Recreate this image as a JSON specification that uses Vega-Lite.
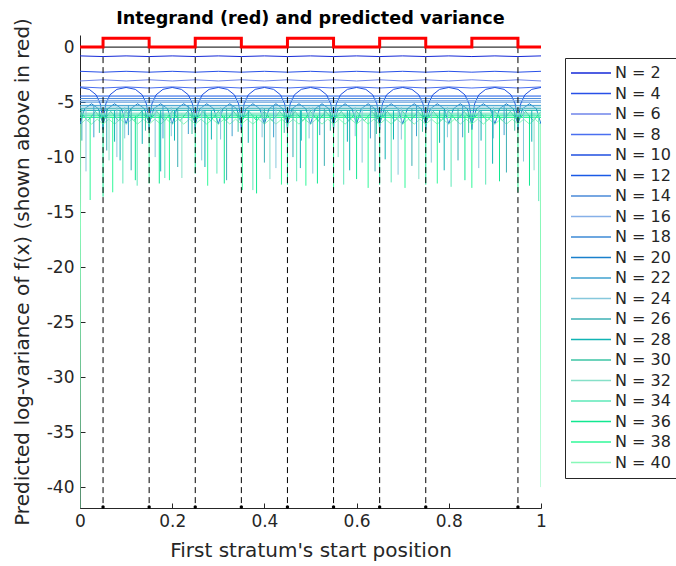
{
"$schema":"https://vega.github.io/schema/vega-lite/v6.json",
"width":461,"height":473,"autosize":"none",
"padding":{"left":80,"top":35,"right":135,"bottom":58},
"title":{"text":"Integrand (red) and predicted variance","fontSize":17.6,"fontWeight":"bold","font":"DejaVu Sans","color":"#000000","anchor":"middle","frame":"group","offset":6,"dy":16},
"datasets":{
"red":[{"x":0,"y":0},{"x":0.05,"y":0.8},{"x":0.15,"y":0},{"x":0.25,"y":0.8},{"x":0.35,"y":0},{"x":0.45,"y":0.8},{"x":0.55,"y":0},{"x":0.65,"y":0.8},{"x":0.75,"y":0},{"x":0.85,"y":0.8},{"x":0.95,"y":0},{"x":1,"y":0}],
"stems":[{"x":0.05,"t":0,"v":-41.8},{"x":0.15,"t":0,"v":-41.8},{"x":0.25,"t":0,"v":-41.8},{"x":0.35,"t":0,"v":-41.8},{"x":0.45,"t":0,"v":-41.8},{"x":0.55,"t":0,"v":-41.8},{"x":0.65,"t":0,"v":-41.8},{"x":0.75,"t":0,"v":-41.8},{"x":0.95,"t":0,"v":-41.8}],
"base":[{"x":0,"y":0},{"x":1,"y":0}],
"var":[
{"n":2,"x":0,"y":-0.8},{"n":2,"x":0.05,"y":-0.86},{"n":2,"x":0.1,"y":-0.8},{"n":2,"x":0.15,"y":-0.86},{"n":2,"x":0.2,"y":-0.8},{"n":2,"x":0.25,"y":-0.86},{"n":2,"x":0.3,"y":-0.8},{"n":2,"x":0.35,"y":-0.86},{"n":2,"x":0.4,"y":-0.8},{"n":2,"x":0.45,"y":-0.86},{"n":2,"x":0.5,"y":-0.8},{"n":2,"x":0.55,"y":-0.86},{"n":2,"x":0.6,"y":-0.8},{"n":2,"x":0.65,"y":-0.86},{"n":2,"x":0.7,"y":-0.8},{"n":2,"x":0.75,"y":-0.86},{"n":2,"x":0.8,"y":-0.8},{"n":2,"x":0.85,"y":-0.86},{"n":2,"x":0.9,"y":-0.8},{"n":2,"x":0.95,"y":-0.86},{"n":2,"x":1,"y":-0.8},
{"n":4,"x":0,"y":-2.2},{"n":4,"x":0.05,"y":-2.28},{"n":4,"x":0.1,"y":-2.2},{"n":4,"x":0.15,"y":-2.28},{"n":4,"x":0.2,"y":-2.2},{"n":4,"x":0.25,"y":-2.28},{"n":4,"x":0.3,"y":-2.2},{"n":4,"x":0.35,"y":-2.28},{"n":4,"x":0.4,"y":-2.2},{"n":4,"x":0.45,"y":-2.28},{"n":4,"x":0.5,"y":-2.2},{"n":4,"x":0.55,"y":-2.28},{"n":4,"x":0.6,"y":-2.2},{"n":4,"x":0.65,"y":-2.28},{"n":4,"x":0.7,"y":-2.2},{"n":4,"x":0.75,"y":-2.28},{"n":4,"x":0.8,"y":-2.2},{"n":4,"x":0.85,"y":-2.28},{"n":4,"x":0.9,"y":-2.2},{"n":4,"x":0.95,"y":-2.28},{"n":4,"x":1,"y":-2.2},
{"n":6,"x":0,"y":-3.08},{"n":6,"x":0.05,"y":-2.97},{"n":6,"x":0.1,"y":-3.08},{"n":6,"x":0.15,"y":-2.97},{"n":6,"x":0.2,"y":-3.08},{"n":6,"x":0.25,"y":-2.97},{"n":6,"x":0.3,"y":-3.08},{"n":6,"x":0.35,"y":-2.97},{"n":6,"x":0.4,"y":-3.08},{"n":6,"x":0.45,"y":-2.97},{"n":6,"x":0.5,"y":-3.08},{"n":6,"x":0.55,"y":-2.97},{"n":6,"x":0.6,"y":-3.08},{"n":6,"x":0.65,"y":-2.97},{"n":6,"x":0.7,"y":-3.08},{"n":6,"x":0.75,"y":-2.97},{"n":6,"x":0.8,"y":-3.08},{"n":6,"x":0.85,"y":-2.97},{"n":6,"x":0.9,"y":-3.08},{"n":6,"x":0.95,"y":-2.97},{"n":6,"x":1,"y":-3.08},
{"n":8,"x":0,"y":-3.62},{"n":8,"x":0.05,"y":-3.72},{"n":8,"x":0.1,"y":-3.62},{"n":8,"x":0.15,"y":-3.72},{"n":8,"x":0.2,"y":-3.62},{"n":8,"x":0.25,"y":-3.72},{"n":8,"x":0.3,"y":-3.62},{"n":8,"x":0.35,"y":-3.72},{"n":8,"x":0.4,"y":-3.62},{"n":8,"x":0.45,"y":-3.72},{"n":8,"x":0.5,"y":-3.62},{"n":8,"x":0.55,"y":-3.72},{"n":8,"x":0.6,"y":-3.62},{"n":8,"x":0.65,"y":-3.72},{"n":8,"x":0.7,"y":-3.62},{"n":8,"x":0.75,"y":-3.72},{"n":8,"x":0.8,"y":-3.62},{"n":8,"x":0.85,"y":-3.72},{"n":8,"x":0.9,"y":-3.62},{"n":8,"x":0.95,"y":-3.72},{"n":8,"x":1,"y":-3.62},
{"n":10,"x":0,"y":-3.67},
{"n":10,"x":0.02,"y":-3.84},{"n":10,"x":0.035,"y":-4.34},{"n":10,"x":0.044,"y":-5.16},{"n":10,"x":0.048,"y":-6.22},{"n":10,"x":0.05,"y":-7.5},{"n":10,"x":0.052,"y":-6.22},{"n":10,"x":0.056,"y":-5.16},{"n":10,"x":0.065,"y":-4.34},{"n":10,"x":0.08,"y":-3.84},{"n":10,"x":0.1,"y":-3.67},
{"n":10,"x":0.12,"y":-3.84},{"n":10,"x":0.135,"y":-4.34},{"n":10,"x":0.144,"y":-5.16},{"n":10,"x":0.148,"y":-6.22},{"n":10,"x":0.15,"y":-7.5},{"n":10,"x":0.152,"y":-6.22},{"n":10,"x":0.156,"y":-5.16},{"n":10,"x":0.165,"y":-4.34},{"n":10,"x":0.18,"y":-3.84},{"n":10,"x":0.2,"y":-3.67},
{"n":10,"x":0.22,"y":-3.84},{"n":10,"x":0.235,"y":-4.34},{"n":10,"x":0.244,"y":-5.16},{"n":10,"x":0.248,"y":-6.22},{"n":10,"x":0.25,"y":-7.5},{"n":10,"x":0.252,"y":-6.22},{"n":10,"x":0.256,"y":-5.16},{"n":10,"x":0.265,"y":-4.34},{"n":10,"x":0.28,"y":-3.84},{"n":10,"x":0.3,"y":-3.67},
{"n":10,"x":0.32,"y":-3.84},{"n":10,"x":0.335,"y":-4.34},{"n":10,"x":0.344,"y":-5.16},{"n":10,"x":0.348,"y":-6.22},{"n":10,"x":0.35,"y":-7.5},{"n":10,"x":0.352,"y":-6.22},{"n":10,"x":0.356,"y":-5.16},{"n":10,"x":0.365,"y":-4.34},{"n":10,"x":0.38,"y":-3.84},{"n":10,"x":0.4,"y":-3.67},
{"n":10,"x":0.42,"y":-3.84},{"n":10,"x":0.435,"y":-4.34},{"n":10,"x":0.444,"y":-5.16},{"n":10,"x":0.448,"y":-6.22},{"n":10,"x":0.45,"y":-7.5},{"n":10,"x":0.452,"y":-6.22},{"n":10,"x":0.456,"y":-5.16},{"n":10,"x":0.465,"y":-4.34},{"n":10,"x":0.48,"y":-3.84},{"n":10,"x":0.5,"y":-3.67},
{"n":10,"x":0.52,"y":-3.84},{"n":10,"x":0.535,"y":-4.34},{"n":10,"x":0.544,"y":-5.16},{"n":10,"x":0.548,"y":-6.22},{"n":10,"x":0.55,"y":-7.5},{"n":10,"x":0.552,"y":-6.22},{"n":10,"x":0.556,"y":-5.16},{"n":10,"x":0.565,"y":-4.34},{"n":10,"x":0.58,"y":-3.84},{"n":10,"x":0.6,"y":-3.67},
{"n":10,"x":0.62,"y":-3.84},{"n":10,"x":0.635,"y":-4.34},{"n":10,"x":0.644,"y":-5.16},{"n":10,"x":0.648,"y":-6.22},{"n":10,"x":0.65,"y":-7.5},{"n":10,"x":0.652,"y":-6.22},{"n":10,"x":0.656,"y":-5.16},{"n":10,"x":0.665,"y":-4.34},{"n":10,"x":0.68,"y":-3.84},{"n":10,"x":0.7,"y":-3.67},
{"n":10,"x":0.72,"y":-3.84},{"n":10,"x":0.735,"y":-4.34},{"n":10,"x":0.744,"y":-5.16},{"n":10,"x":0.748,"y":-6.22},{"n":10,"x":0.75,"y":-7.5},{"n":10,"x":0.752,"y":-6.22},{"n":10,"x":0.756,"y":-5.16},{"n":10,"x":0.765,"y":-4.34},{"n":10,"x":0.78,"y":-3.84},{"n":10,"x":0.8,"y":-3.67},
{"n":10,"x":0.82,"y":-3.84},{"n":10,"x":0.835,"y":-4.34},{"n":10,"x":0.844,"y":-5.16},{"n":10,"x":0.848,"y":-6.22},{"n":10,"x":0.85,"y":-7.5},{"n":10,"x":0.852,"y":-6.22},{"n":10,"x":0.856,"y":-5.16},{"n":10,"x":0.865,"y":-4.34},{"n":10,"x":0.88,"y":-3.84},{"n":10,"x":0.9,"y":-3.67},
{"n":10,"x":0.92,"y":-3.84},{"n":10,"x":0.935,"y":-4.34},{"n":10,"x":0.944,"y":-5.16},{"n":10,"x":0.948,"y":-6.22},{"n":10,"x":0.95,"y":-7.5},{"n":10,"x":0.952,"y":-6.22},{"n":10,"x":0.956,"y":-5.16},{"n":10,"x":0.965,"y":-4.34},{"n":10,"x":0.98,"y":-3.84},{"n":10,"x":1,"y":-3.67},
{"n":12,"x":0,"y":-4.45},{"n":12,"x":1,"y":-4.45},
{"n":14,"x":0,"y":-4.67},{"n":14,"x":1,"y":-4.67},
{"n":16,"x":0,"y":-4.85},{"n":16,"x":1,"y":-4.85},
{"n":18,"x":0,"y":-5.0},{"n":18,"x":1,"y":-5.0},
{"n":20,"x":0,"y":-7},{"n":20,"x":0.01,"y":-5.6},{"n":20,"x":0.025,"y":-5.15},{"n":20,"x":0.04,"y":-5.6},
{"n":20,"x":0.05,"y":-7},{"n":20,"x":0.06,"y":-5.6},{"n":20,"x":0.075,"y":-5.15},{"n":20,"x":0.09,"y":-5.6},
{"n":20,"x":0.1,"y":-7},{"n":20,"x":0.11,"y":-5.6},{"n":20,"x":0.125,"y":-5.15},{"n":20,"x":0.14,"y":-5.6},
{"n":20,"x":0.15,"y":-7},{"n":20,"x":0.16,"y":-5.6},{"n":20,"x":0.175,"y":-5.15},{"n":20,"x":0.19,"y":-5.6},
{"n":20,"x":0.2,"y":-7},{"n":20,"x":0.21,"y":-5.6},{"n":20,"x":0.225,"y":-5.15},{"n":20,"x":0.24,"y":-5.6},
{"n":20,"x":0.25,"y":-7},{"n":20,"x":0.26,"y":-5.6},{"n":20,"x":0.275,"y":-5.15},{"n":20,"x":0.29,"y":-5.6},
{"n":20,"x":0.3,"y":-7},{"n":20,"x":0.31,"y":-5.6},{"n":20,"x":0.325,"y":-5.15},{"n":20,"x":0.34,"y":-5.6},
{"n":20,"x":0.35,"y":-7},{"n":20,"x":0.36,"y":-5.6},{"n":20,"x":0.375,"y":-5.15},{"n":20,"x":0.39,"y":-5.6},
{"n":20,"x":0.4,"y":-7},{"n":20,"x":0.41,"y":-5.6},{"n":20,"x":0.425,"y":-5.15},{"n":20,"x":0.44,"y":-5.6},
{"n":20,"x":0.45,"y":-7},{"n":20,"x":0.46,"y":-5.6},{"n":20,"x":0.475,"y":-5.15},{"n":20,"x":0.49,"y":-5.6},
{"n":20,"x":0.5,"y":-7},{"n":20,"x":0.51,"y":-5.6},{"n":20,"x":0.525,"y":-5.15},{"n":20,"x":0.54,"y":-5.6},
{"n":20,"x":0.55,"y":-7},{"n":20,"x":0.56,"y":-5.6},{"n":20,"x":0.575,"y":-5.15},{"n":20,"x":0.59,"y":-5.6},
{"n":20,"x":0.6,"y":-7},{"n":20,"x":0.61,"y":-5.6},{"n":20,"x":0.625,"y":-5.15},{"n":20,"x":0.64,"y":-5.6},
{"n":20,"x":0.65,"y":-7},{"n":20,"x":0.66,"y":-5.6},{"n":20,"x":0.675,"y":-5.15},{"n":20,"x":0.69,"y":-5.6},
{"n":20,"x":0.7,"y":-7},{"n":20,"x":0.71,"y":-5.6},{"n":20,"x":0.725,"y":-5.15},{"n":20,"x":0.74,"y":-5.6},
{"n":20,"x":0.75,"y":-7},{"n":20,"x":0.76,"y":-5.6},{"n":20,"x":0.775,"y":-5.15},{"n":20,"x":0.79,"y":-5.6},
{"n":20,"x":0.8,"y":-7},{"n":20,"x":0.81,"y":-5.6},{"n":20,"x":0.825,"y":-5.15},{"n":20,"x":0.84,"y":-5.6},
{"n":20,"x":0.85,"y":-7},{"n":20,"x":0.86,"y":-5.6},{"n":20,"x":0.875,"y":-5.15},{"n":20,"x":0.89,"y":-5.6},
{"n":20,"x":0.9,"y":-7},{"n":20,"x":0.91,"y":-5.6},{"n":20,"x":0.925,"y":-5.15},{"n":20,"x":0.94,"y":-5.6},
{"n":20,"x":0.95,"y":-7},{"n":20,"x":0.96,"y":-5.6},{"n":20,"x":0.975,"y":-5.15},{"n":20,"x":0.99,"y":-5.6},
{"n":20,"x":1,"y":-7},
{"n":22,"x":0,"y":-5.3},{"n":22,"x":1,"y":-5.3},
{"n":24,"x":0,"y":-5.45},{"n":24,"x":1,"y":-5.45},
{"n":26,"x":0,"y":-5.6},{"n":26,"x":1,"y":-5.6},
{"n":28,"x":0,"y":-5.75},{"n":28,"x":1,"y":-5.75},
{"n":30,"x":0,"y":-5.85},{"n":30,"x":0.0167,"y":-6.7},{"n":30,"x":0.0333,"y":-5.85},{"n":30,"x":0.05,"y":-6.7},{"n":30,"x":0.0667,"y":-5.85},{"n":30,"x":0.0833,"y":-6.7},{"n":30,"x":0.1,"y":-5.85},{"n":30,"x":0.1167,"y":-6.7},{"n":30,"x":0.1333,"y":-5.85},{"n":30,"x":0.15,"y":-6.7},{"n":30,"x":0.1667,"y":-5.85},{"n":30,"x":0.1833,"y":-6.7},{"n":30,"x":0.2,"y":-5.85},{"n":30,"x":0.2167,"y":-6.7},{"n":30,"x":0.2333,"y":-5.85},{"n":30,"x":0.25,"y":-6.7},{"n":30,"x":0.2667,"y":-5.85},{"n":30,"x":0.2833,"y":-6.7},{"n":30,"x":0.3,"y":-5.85},{"n":30,"x":0.3167,"y":-6.7},{"n":30,"x":0.3333,"y":-5.85},{"n":30,"x":0.35,"y":-6.7},{"n":30,"x":0.3667,"y":-5.85},{"n":30,"x":0.3833,"y":-6.7},{"n":30,"x":0.4,"y":-5.85},{"n":30,"x":0.4167,"y":-6.7},{"n":30,"x":0.4333,"y":-5.85},{"n":30,"x":0.45,"y":-6.7},{"n":30,"x":0.4667,"y":-5.85},{"n":30,"x":0.4833,"y":-6.7},{"n":30,"x":0.5,"y":-5.85},{"n":30,"x":0.5167,"y":-6.7},{"n":30,"x":0.5333,"y":-5.85},{"n":30,"x":0.55,"y":-6.7},{"n":30,"x":0.5667,"y":-5.85},{"n":30,"x":0.5833,"y":-6.7},{"n":30,"x":0.6,"y":-5.85},{"n":30,"x":0.6167,"y":-6.7},{"n":30,"x":0.6333,"y":-5.85},{"n":30,"x":0.65,"y":-6.7},{"n":30,"x":0.6667,"y":-5.85},{"n":30,"x":0.6833,"y":-6.7},{"n":30,"x":0.7,"y":-5.85},{"n":30,"x":0.7167,"y":-6.7},{"n":30,"x":0.7333,"y":-5.85},{"n":30,"x":0.75,"y":-6.7},{"n":30,"x":0.7667,"y":-5.85},{"n":30,"x":0.7833,"y":-6.7},{"n":30,"x":0.8,"y":-5.85},{"n":30,"x":0.8167,"y":-6.7},{"n":30,"x":0.8333,"y":-5.85},{"n":30,"x":0.85,"y":-6.7},{"n":30,"x":0.8667,"y":-5.85},{"n":30,"x":0.8833,"y":-6.7},{"n":30,"x":0.9,"y":-5.85},{"n":30,"x":0.9167,"y":-6.7},{"n":30,"x":0.9333,"y":-5.85},{"n":30,"x":0.95,"y":-6.7},{"n":30,"x":0.9667,"y":-5.85},{"n":30,"x":0.9833,"y":-6.7},{"n":30,"x":1,"y":-5.85},
{"n":32,"x":0,"y":-6.0},{"n":32,"x":1,"y":-6.0},
{"n":34,"x":0,"y":-6.1},{"n":34,"x":1,"y":-6.1},
{"n":36,"x":0,"y":-6.25},{"n":36,"x":1,"y":-6.25},
{"n":38,"x":0,"y":-6.4},{"n":38,"x":1,"y":-6.4},
{"n":40,"x":0,"y":-41.9},{"n":40,"x":0.0015,"y":-7},{"n":40,"x":0.0125,"y":-6.55},{"n":40,"x":0.025,"y":-7},{"n":40,"x":0.0375,"y":-6.55},{"n":40,"x":0.05,"y":-7},{"n":40,"x":0.0625,"y":-6.55},{"n":40,"x":0.075,"y":-7},{"n":40,"x":0.0875,"y":-6.55},{"n":40,"x":0.1,"y":-7},{"n":40,"x":0.1125,"y":-6.55},{"n":40,"x":0.125,"y":-7},{"n":40,"x":0.1375,"y":-6.55},{"n":40,"x":0.15,"y":-7},{"n":40,"x":0.1625,"y":-6.55},{"n":40,"x":0.175,"y":-7},{"n":40,"x":0.1875,"y":-6.55},{"n":40,"x":0.2,"y":-7},{"n":40,"x":0.2125,"y":-6.55},{"n":40,"x":0.225,"y":-7},{"n":40,"x":0.2375,"y":-6.55},{"n":40,"x":0.25,"y":-7},{"n":40,"x":0.2625,"y":-6.55},{"n":40,"x":0.275,"y":-7},{"n":40,"x":0.2875,"y":-6.55},{"n":40,"x":0.3,"y":-7},{"n":40,"x":0.3125,"y":-6.55},{"n":40,"x":0.325,"y":-7},{"n":40,"x":0.3375,"y":-6.55},{"n":40,"x":0.35,"y":-7},{"n":40,"x":0.3625,"y":-6.55},{"n":40,"x":0.375,"y":-7},{"n":40,"x":0.3875,"y":-6.55},{"n":40,"x":0.4,"y":-7},{"n":40,"x":0.4125,"y":-6.55},{"n":40,"x":0.425,"y":-7},{"n":40,"x":0.4375,"y":-6.55},{"n":40,"x":0.45,"y":-7},{"n":40,"x":0.4625,"y":-6.55},{"n":40,"x":0.475,"y":-7},{"n":40,"x":0.4875,"y":-6.55},{"n":40,"x":0.5,"y":-7},{"n":40,"x":0.5125,"y":-6.55},{"n":40,"x":0.525,"y":-7},{"n":40,"x":0.5375,"y":-6.55},{"n":40,"x":0.55,"y":-7},{"n":40,"x":0.5625,"y":-6.55},{"n":40,"x":0.575,"y":-7},{"n":40,"x":0.5875,"y":-6.55},{"n":40,"x":0.6,"y":-7},{"n":40,"x":0.6125,"y":-6.55},{"n":40,"x":0.625,"y":-7},{"n":40,"x":0.6375,"y":-6.55},{"n":40,"x":0.65,"y":-7},{"n":40,"x":0.6625,"y":-6.55},{"n":40,"x":0.675,"y":-7},{"n":40,"x":0.6875,"y":-6.55},{"n":40,"x":0.7,"y":-7},{"n":40,"x":0.7125,"y":-6.55},{"n":40,"x":0.725,"y":-7},{"n":40,"x":0.7375,"y":-6.55},{"n":40,"x":0.75,"y":-7},{"n":40,"x":0.7625,"y":-6.55},{"n":40,"x":0.775,"y":-7},{"n":40,"x":0.7875,"y":-6.55},{"n":40,"x":0.8,"y":-7},{"n":40,"x":0.8125,"y":-6.55},{"n":40,"x":0.825,"y":-7},{"n":40,"x":0.8375,"y":-6.55},{"n":40,"x":0.85,"y":-7},{"n":40,"x":0.8625,"y":-6.55},{"n":40,"x":0.875,"y":-7},{"n":40,"x":0.8875,"y":-6.55},{"n":40,"x":0.9,"y":-7},{"n":40,"x":0.9125,"y":-6.55},{"n":40,"x":0.925,"y":-7},{"n":40,"x":0.9375,"y":-6.55},{"n":40,"x":0.95,"y":-7},{"n":40,"x":0.9625,"y":-6.55},{"n":40,"x":0.975,"y":-7},{"n":40,"x":0.9875,"y":-6.55},{"n":40,"x":0.9985,"y":-7},{"n":40,"x":1,"y":-40}
],
"spk":[
{"n":26,"x":0.004,"y":-8.5,"b":-5.6},{"n":24,"x":0.013,"y":-11.3,"b":-5.45},{"n":38,"x":0.022,"y":-13.9,"b":-6.4},{"n":36,"x":0.05,"y":-13.6,"b":-6.25},{"n":26,"x":0.058,"y":-9.4,"b":-5.6},{"n":32,"x":0.063,"y":-10.3,"b":-6.0},{"n":38,"x":0.071,"y":-13.2,"b":-6.4},{"n":24,"x":0.08,"y":-10,"b":-5.45},{"n":28,"x":0.087,"y":-10.3,"b":-5.75},{"n":34,"x":0.093,"y":-12.4,"b":-6.1},{"n":26,"x":0.111,"y":-11.2,"b":-5.6},{"n":36,"x":0.12,"y":-12.1,"b":-6.25},{"n":34,"x":0.124,"y":-12.6,"b":-6.1},
{"n":38,"x":0.15,"y":-12.4,"b":-6.4},{"n":24,"x":0.163,"y":-10,"b":-5.45},{"n":36,"x":0.172,"y":-12.4,"b":-6.25},{"n":28,"x":0.175,"y":-11.3,"b":-5.75},{"n":34,"x":0.184,"y":-11.9,"b":-6.1},{"n":38,"x":0.194,"y":-12.1,"b":-6.4},{"n":26,"x":0.212,"y":-10.9,"b":-5.6},{"n":32,"x":0.221,"y":-11.9,"b":-6.0},{"n":36,"x":0.25,"y":-11.5,"b":-6.25},{"n":24,"x":0.264,"y":-10.3,"b":-5.45},{"n":28,"x":0.271,"y":-10.9,"b":-5.75},{"n":38,"x":0.277,"y":-12.6,"b":-6.4},{"n":34,"x":0.297,"y":-11.5,"b":-6.1},{"n":36,"x":0.313,"y":-12.4,"b":-6.25},{"n":26,"x":0.318,"y":-12.1,"b":-5.6},{"n":38,"x":0.352,"y":-13,"b":-6.4},{"n":34,"x":0.375,"y":-13,"b":-6.1},{"n":36,"x":0.383,"y":-13.3,"b":-6.25},
{"n":26,"x":0.4,"y":-10.5,"b":-5.6},{"n":32,"x":0.412,"y":-12,"b":-6.0},{"n":24,"x":0.425,"y":-11,"b":-5.45},{"n":38,"x":0.437,"y":-12.5,"b":-6.4},{"n":36,"x":0.45,"y":-12.5,"b":-6.25},{"n":26,"x":0.462,"y":-10,"b":-5.6},{"n":34,"x":0.47,"y":-12.2,"b":-6.1},{"n":28,"x":0.478,"y":-11,"b":-5.75},{"n":38,"x":0.49,"y":-12.6,"b":-6.4},{"n":24,"x":0.505,"y":-11.5,"b":-5.45},{"n":36,"x":0.515,"y":-12.4,"b":-6.25},{"n":26,"x":0.53,"y":-10.8,"b":-5.6},{"n":38,"x":0.55,"y":-13,"b":-6.4},{"n":32,"x":0.56,"y":-10,"b":-6.0},{"n":34,"x":0.572,"y":-12.5,"b":-6.1},{"n":28,"x":0.585,"y":-11.2,"b":-5.75},{"n":36,"x":0.6,"y":-12,"b":-6.25},{"n":24,"x":0.612,"y":-10.5,"b":-5.45},{"n":38,"x":0.625,"y":-12.8,"b":-6.4},{"n":26,"x":0.64,"y":-11.3,"b":-5.6},{"n":36,"x":0.65,"y":-12.5,"b":-6.25},{"n":28,"x":0.662,"y":-10.2,"b":-5.75},{"n":34,"x":0.675,"y":-12.3,"b":-6.1},{"n":24,"x":0.69,"y":-11.6,"b":-5.45},{"n":38,"x":0.705,"y":-12.8,"b":-6.4},{"n":26,"x":0.72,"y":-10.8,"b":-5.6},{"n":32,"x":0.735,"y":-12,"b":-6.0},{"n":36,"x":0.75,"y":-12.5,"b":-6.25},{"n":24,"x":0.762,"y":-10.5,"b":-5.45},{"n":38,"x":0.775,"y":-12.4,"b":-6.4},{"n":28,"x":0.79,"y":-11.2,"b":-5.75},{"n":34,"x":0.805,"y":-12.7,"b":-6.1},{"n":26,"x":0.82,"y":-10.3,"b":-5.6},{"n":36,"x":0.835,"y":-12.1,"b":-6.25},{"n":38,"x":0.85,"y":-12.8,"b":-6.4},{"n":24,"x":0.865,"y":-11,"b":-5.45},{"n":34,"x":0.88,"y":-12.5,"b":-6.1},{"n":28,"x":0.895,"y":-10.6,"b":-5.75},{"n":36,"x":0.91,"y":-12.2,"b":-6.25},{"n":26,"x":0.925,"y":-11.4,"b":-5.6},{"n":38,"x":0.95,"y":-13.2,"b":-6.4},{"n":24,"x":0.962,"y":-10.4,"b":-5.45},{"n":36,"x":0.975,"y":-12.6,"b":-6.25},{"n":32,"x":0.985,"y":-11.2,"b":-6.0},{"n":34,"x":0.995,"y":-14,"b":-6.1},
{"n":22,"x":0.03,"y":-8.2,"b":-5.3},{"n":28,"x":0.075,"y":-8.6,"b":-5.75},{"n":22,"x":0.105,"y":-8.0,"b":-5.3},{"n":28,"x":0.135,"y":-8.8,"b":-5.75},{"n":22,"x":0.18,"y":-8.3,"b":-5.3},{"n":28,"x":0.205,"y":-8.5,"b":-5.75},{"n":22,"x":0.235,"y":-7.9,"b":-5.3},{"n":28,"x":0.285,"y":-8.4,"b":-5.75},{"n":22,"x":0.33,"y":-8.1,"b":-5.3},{"n":28,"x":0.365,"y":-8.7,"b":-5.75},{"n":22,"x":0.42,"y":-8.2,"b":-5.3},{"n":28,"x":0.48,"y":-8.5,"b":-5.75},{"n":22,"x":0.52,"y":-8.0,"b":-5.3},{"n":28,"x":0.58,"y":-8.6,"b":-5.75},{"n":22,"x":0.63,"y":-8.3,"b":-5.3},{"n":28,"x":0.68,"y":-8.4,"b":-5.75},{"n":22,"x":0.73,"y":-8.1,"b":-5.3},{"n":28,"x":0.78,"y":-8.7,"b":-5.75},{"n":22,"x":0.83,"y":-8.2,"b":-5.3},{"n":28,"x":0.87,"y":-8.5,"b":-5.75},{"n":22,"x":0.92,"y":-8.0,"b":-5.3},{"n":28,"x":0.98,"y":-8.6,"b":-5.75},
{"n":30,"x":0.042,"y":-7.8,"b":-5.9},{"n":24,"x":0.097,"y":-8.3,"b":-5.45},{"n":30,"x":0.142,"y":-7.6,"b":-5.9},{"n":24,"x":0.198,"y":-8.1,"b":-5.45},{"n":30,"x":0.243,"y":-7.9,"b":-5.9},{"n":24,"x":0.305,"y":-8.4,"b":-5.45},{"n":30,"x":0.343,"y":-7.7,"b":-5.9},{"n":24,"x":0.395,"y":-8.2,"b":-5.45},{"n":30,"x":0.443,"y":-7.8,"b":-5.9},{"n":24,"x":0.497,"y":-8.3,"b":-5.45},{"n":30,"x":0.543,"y":-7.6,"b":-5.9},{"n":24,"x":0.597,"y":-8.1,"b":-5.45},{"n":30,"x":0.643,"y":-7.9,"b":-5.9},{"n":24,"x":0.697,"y":-8.4,"b":-5.45},{"n":30,"x":0.743,"y":-7.7,"b":-5.9},{"n":24,"x":0.797,"y":-8.2,"b":-5.45},{"n":30,"x":0.843,"y":-7.8,"b":-5.9},{"n":24,"x":0.897,"y":-8.3,"b":-5.45},{"n":30,"x":0.943,"y":-7.6,"b":-5.9}
]
},
"layer":[
{"data":{"name":"var"},"mark":{"type":"line","strokeWidth":1,"clip":true},
 "encoding":{
  "x":{"field":"x","type":"quantitative","title":"First stratum's start position","scale":{"domain":[0,1],"nice":false,"zero":false},"axis":{"values":[0,0.2,0.4,0.6,0.8,1],"format":"~g","labelFlush":false}},
  "y":{"field":"y","type":"quantitative","title":"Predicted log-variance of f(x) (shown above in red)","scale":{"domain":[-41.9,1.1],"nice":false,"zero":false},"axis":{"values":[0,-5,-10,-15,-20,-25,-30,-35,-40],"labelExpr":"'' + datum.value","labelFlush":false}},
  "color":{"field":"n","type":"nominal","scale":{"domain":[2,4,6,8,10,12,14,16,18,20,22,24,26,28,30,32,34,36,38,40],"range":["#1428d8","#2850e8","#6f85ea","#4a6ff0","#1f4fe0","#1a5ae6","#4a8ad8","#86b0e8","#3d8ad6","#1a80cc","#40a2cf","#86c8dc","#3cb0b4","#10b4b4","#3cc4a4","#86e0c8","#5ee8b8","#10e890","#30f898","#88f8b8"]},"legend":{"title":null,"labelExpr":"'N = ' + datum.label"}}
 }},
{"data":{"name":"spk"},"mark":{"type":"rule","strokeWidth":1,"clip":true},
 "encoding":{"x":{"field":"x","type":"quantitative","title":"First stratum's start position"},"y":{"field":"y","type":"quantitative","title":"Predicted log-variance of f(x) (shown above in red)"},"y2":{"field":"b"},"color":{"field":"n","type":"nominal"}}},
{"data":{"name":"stems"},"mark":{"type":"rule","color":"#000000","strokeDash":[6,4],"strokeWidth":1},
 "encoding":{"x":{"field":"x","type":"quantitative","title":"First stratum's start position"},"y":{"field":"t","type":"quantitative","title":"Predicted log-variance of f(x) (shown above in red)"},"y2":{"field":"v"}}},
{"data":{"name":"stems"},"mark":{"type":"point","filled":true,"color":"#000000","size":12,"opacity":1},
 "encoding":{"x":{"field":"x","type":"quantitative","title":"First stratum's start position"},"y":{"field":"v","type":"quantitative","title":"Predicted log-variance of f(x) (shown above in red)"}}},
{"data":{"name":"base"},"mark":{"type":"line","color":"#000000","strokeWidth":1},
 "encoding":{"x":{"field":"x","type":"quantitative","title":"First stratum's start position"},"y":{"field":"y","type":"quantitative","title":"Predicted log-variance of f(x) (shown above in red)"}}},
{"data":{"name":"red"},"mark":{"type":"line","color":"#ff0000","strokeWidth":3,"interpolate":"step-after"},
 "encoding":{"x":{"field":"x","type":"quantitative","title":"First stratum's start position"},"y":{"field":"y","type":"quantitative","title":"Predicted log-variance of f(x) (shown above in red)"}}}
],
"config":{
 "view":{"stroke":null},
 "font":"DejaVu Sans",
 "axis":{"domainColor":"#262626","domainWidth":1,"tickColor":"#262626","tickSize":-5,"labelColor":"#262626","titleColor":"#262626","labelFontSize":17,"titleFontSize":20,"titleFontWeight":"normal","grid":false,"labelFont":"DejaVu Sans","titleFont":"DejaVu Sans"},
 "axisX":{"labelPadding":10,"titlePadding":11},
 "axisY":{"labelPadding":11,"titlePadding":14},
 "legend":{"orient":"none","legendX":485,"legendY":23,"symbolType":"stroke","symbolSize":1600,"clipHeight":20,"symbolStrokeWidth":1.5,"labelFontSize":16,"labelFont":"DejaVu Sans","labelColor":"#262626","strokeColor":"#262626","fillColor":"#ffffff","padding":5,"rowPadding":0.5,"labelOffset":3}
}
}
